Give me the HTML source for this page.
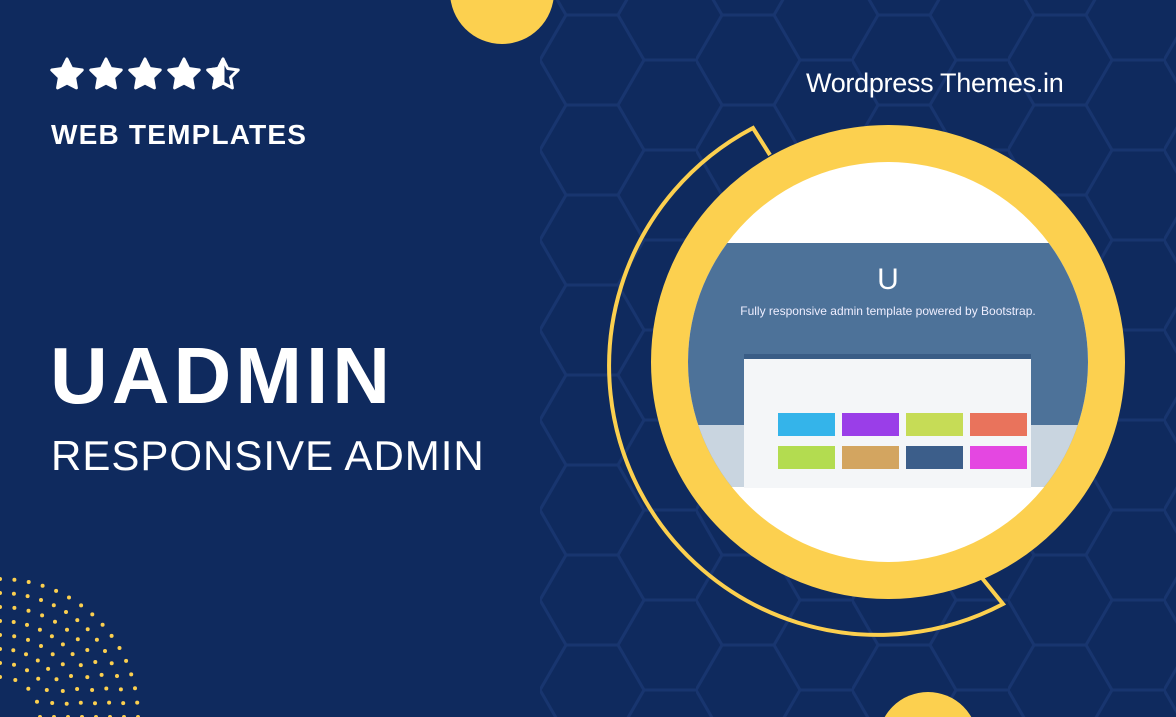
<!DOCTYPE html>
<html><head><meta charset="utf-8"><style>
html,body{margin:0;width:1176px;height:717px;overflow:hidden}
body{background:#0f2a5e;font-family:"Liberation Sans",sans-serif;position:relative}
.t{position:absolute;color:#fff;font-weight:bold;white-space:nowrap}
</style></head><body>
<svg width="1176" height="717" style="position:absolute;left:0;top:0">
<defs>
<pattern id="hex" width="156" height="90" patternUnits="userSpaceOnUse" x="540" y="15">
<path d="M0 45 L26 0 L78 0 L104 45 L78 90 L26 90 Z M104 45 L156 45" fill="none" stroke="#18356f" stroke-width="3"/>
</pattern>
<clipPath id="cc"><circle cx="888" cy="362" r="200"/></clipPath>
<path id="st" d="M0 -16 L4.7 -6.5 L15.2 -5 L7.6 2.4 L9.4 12.9 L0 8 L-9.4 12.9 L-7.6 2.4 L-15.2 -5 L-4.7 -6.5 Z" stroke-linejoin="round" stroke-width="3"/>
</defs>
<rect x="540" y="0" width="636" height="717" fill="url(#hex)"/>
<circle cx="502" cy="-8" r="52" fill="#fcd04f"/>
<circle cx="928" cy="742" r="50" fill="#fcd04f"/>
<g fill="#fcd04f"><g id="dots"></g></g>
<path d="M770 155 L753 128 A258 258 0 1 0 1003 604 L982 578" fill="none" stroke="#fcd04f" stroke-width="4"/>
<circle cx="888" cy="362" r="218" fill="none" stroke="#fcd04f" stroke-width="38"/>
<circle cx="888" cy="362" r="200" fill="#fff"/>
<g clip-path="url(#cc)">
<rect x="680" y="243" width="420" height="244" fill="#4d7299"/>
<rect x="680" y="425" width="420" height="62" fill="#c9d5e0"/>
<text x="888" y="289" fill="#fff" font-size="30" text-anchor="middle" font-family="Liberation Sans">U</text>
<text x="888" y="315" fill="#eef" font-size="12" text-anchor="middle" font-family="Liberation Sans">Fully responsive admin template powered by Bootstrap.</text>
<rect x="744" y="354" width="287" height="134" fill="#f4f6f8"/>
<rect x="744" y="354" width="287" height="5" fill="#3a5d86"/>
<rect x="778" y="413" width="57" height="23" fill="#34b4ea"/>
<rect x="842" y="413" width="57" height="23" fill="#9a3ee8"/>
<rect x="906" y="413" width="57" height="23" fill="#c6dc56"/>
<rect x="970" y="413" width="57" height="23" fill="#e9735c"/>
<rect x="778" y="446" width="57" height="23" fill="#b3dc50"/>
<rect x="842" y="446" width="57" height="23" fill="#d3a560"/>
<rect x="906" y="446" width="57" height="23" fill="#3c5e8a"/>
<rect x="970" y="446" width="57" height="23" fill="#e447e1"/>
</g>
<g fill="#fff" stroke="#fff">
<use href="#st" x="67" y="75"/><use href="#st" x="106" y="75"/><use href="#st" x="145" y="75"/><use href="#st" x="184" y="75"/>
<use href="#st" x="223" y="75" fill="none"/>
<path d="M223 -16 L218.3 -6.5 L207.8 -5 L215.4 2.4 L213.6 12.9 L223 8 Z" transform="translate(0,75)" stroke-linejoin="round" stroke-width="3"/>
</g>
</svg>
<div class="t" style="left:51px;top:119px;font-size:28px;letter-spacing:1.2px">WEB TEMPLATES</div>
<div class="t" style="left:50px;top:330px;font-size:80px;letter-spacing:4px">UADMIN</div>
<div class="t" style="left:51px;top:432px;font-size:42px;font-weight:normal;letter-spacing:1px">RESPONSIVE ADMIN</div>
<div class="t" style="left:806px;top:68px;font-size:27px;font-weight:normal;letter-spacing:-0.3px">Wordpress Themes.in</div>
<script>
var g=document.getElementById('dots'),s='';
for(var r=40;r<=150;r+=14){var n=Math.round(r/9);for(var i=0;i<=n;i++){var a=i/n*Math.PI/2;s+='<circle cx="'+(Math.sin(a)*r).toFixed(1)+'" cy="'+(717-Math.cos(a)*r).toFixed(1)+'" r="2"/>';}}
g.innerHTML=s;
</script>
</body></html>
